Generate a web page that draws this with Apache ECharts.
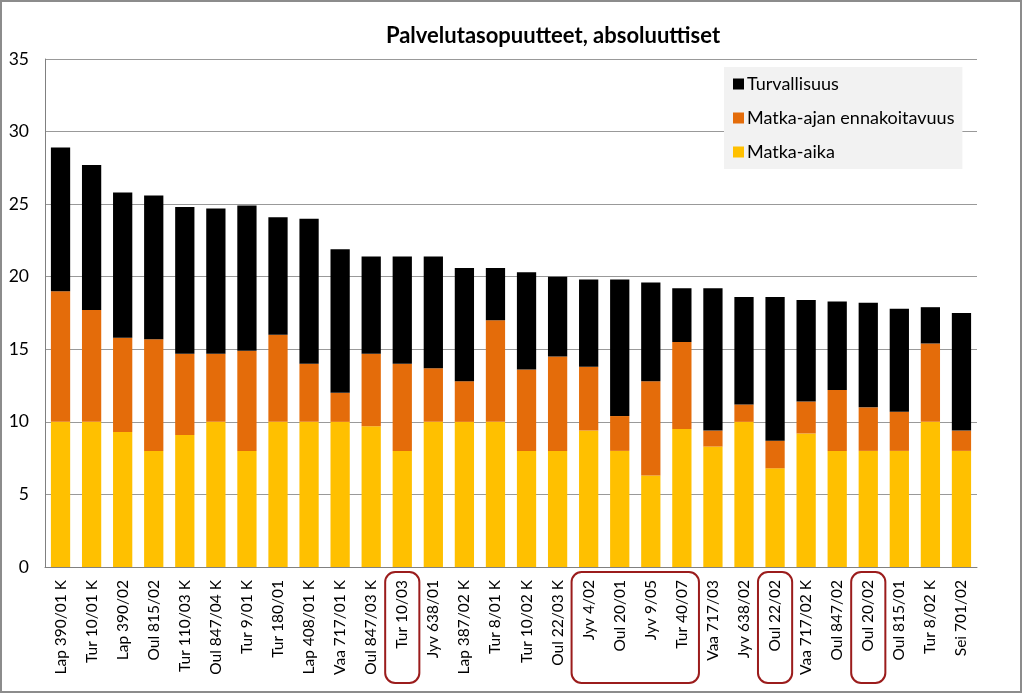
<!DOCTYPE html>
<html>
<head>
<meta charset="utf-8">
<script src="https://cdn.jsdelivr.net/npm/echarts@6/dist/echarts.min.js"></script>
<style>
html,body{margin:0;padding:0;background:#fff;}
#c{width:1024px;height:695px;}
</style>
</head>
<body>
<div id="c"></div>
<script>
var categories = ["Lap 390/01 K","Tur 10/01 K","Lap 390/02","Oul 815/02","Tur 110/03 K","Oul 847/04 K","Tur 9/01 K","Tur 180/01","Lap 408/01 K","Vaa 717/01 K","Oul 847/03 K","Tur 10/03","Jyv 638/01","Lap 387/02 K","Tur 8/01 K","Tur 10/02 K","Oul 22/03 K","Jyv 4/02","Oul 20/01","Jyv 9/05","Tur 40/07","Vaa 717/03","Jyv 638/02","Oul 22/02","Vaa 717/02 K","Oul 847/02","Oul 20/02","Oul 815/01","Tur 8/02 K","Sei 701/02"];
var matkaAika = [10,10,9.3,8,9.1,10,8,10,10,10,9.7,8,10,10,10,8,8,9.4,8,6.3,9.5,8.3,10,6.8,9.2,8,8,8,10,8];
var ennakoitavuus = [9,7.7,6.5,7.7,5.6,4.7,6.9,6,4,2,5,6,3.7,2.8,7,5.6,6.5,4.4,2.4,6.5,6,1.1,1.2,1.9,2.2,4.2,3,2.7,5.4,1.4];
var turvallisuus = [9.9,10,10,9.9,10.1,10,10,8.1,10,9.9,6.7,7.4,7.7,7.8,3.6,6.7,5.5,6,9.4,6.8,3.7,9.8,7.4,9.9,7,6.1,7.2,7.1,2.5,8.1];
var yTicks = [0,5,10,15,20,25,30,35];
var highlightGroups = [["Tur 10/03"],["Jyv 4/02","Tur 40/07"],["Oul 22/02"],["Oul 20/02"]];

var FONT = "Lato, 'Open Sans', 'Liberation Sans', sans-serif";
var chart = echarts.init(document.getElementById('c'), null, {renderer:'canvas'});
var option = {
  animation:false,
  backgroundColor:'#ffffff',
  title:{text:'Palvelutasopuutteet, absoluuttiset', left:548, top:20, textAlign:'center',
    textStyle:{fontFamily:FONT, fontSize:22, fontWeight:'bold', color:'#000'}},
  legend:{
    data:['Turvallisuus','Matka-ajan ennakoitavuus','Matka-aika'],
    orient:'vertical', left:724, top:67, width:240,
    padding:[8,8,8,9], itemGap:16,
    backgroundColor:'#f2f2f2',
    itemWidth:11, itemHeight:11, icon:'rect',
    textStyle:{fontFamily:FONT, fontSize:18, color:'#000', padding:[0,0,0,-2]}
  },
  grid:{left:45, right:47, top:59, bottom:128, containLabel:false},
  xAxis:{type:'category', data:categories,
    axisLine:{lineStyle:{color:'#808080', width:1}},
    axisTick:{show:false},
    axisLabel:{rotate:90, interval:0, fontFamily:FONT, fontSize:15.5, color:'#000', margin:13}
  },
  yAxis:{type:'value', min:0, max:35, interval:5,
    axisLine:{show:true, lineStyle:{color:'#808080'}},
    axisTick:{show:false},
    splitLine:{lineStyle:{color:'#999999', width:1}},
    axisLabel:{fontFamily:FONT, fontSize:17.5, color:'#000', margin:16,
      formatter:function(v){return yTicks.indexOf(v)>=0?String(v):'';}}
  },
  series:[
    {name:'Matka-aika', type:'bar', stack:'a', data:matkaAika, barWidth:'62%', itemStyle:{color:'#FFC000'}},
    {name:'Matka-ajan ennakoitavuus', type:'bar', stack:'a', data:ennakoitavuus, itemStyle:{color:'#E46C0A'}},
    {name:'Turvallisuus', type:'bar', stack:'a', data:turvallisuus, itemStyle:{color:'#000000'}}
  ]
};
chart.setOption(option);

var graphics = [{type:'rect', shape:{x:1, y:1, width:1020, height:691}, style:{fill:'none', stroke:'#8c8c8c', lineWidth:2}, silent:true}];
var half = chart.convertToPixel({xAxisIndex:0}, categories[1]) - chart.convertToPixel({xAxisIndex:0}, categories[0]);
highlightGroups.forEach(function(g){
  var x0 = chart.convertToPixel({xAxisIndex:0}, g[0]) - half*0.55;
  var x1 = chart.convertToPixel({xAxisIndex:0}, g[g.length-1]) + half*0.55;
  graphics.push({type:'rect', shape:{x:x0, y:572, width:x1-x0, height:111, r:10},
    style:{fill:'none', stroke:'#9b1c1c', lineWidth:2}, silent:true});
});
chart.setOption({graphic:graphics});
</script>
</body>
</html>
